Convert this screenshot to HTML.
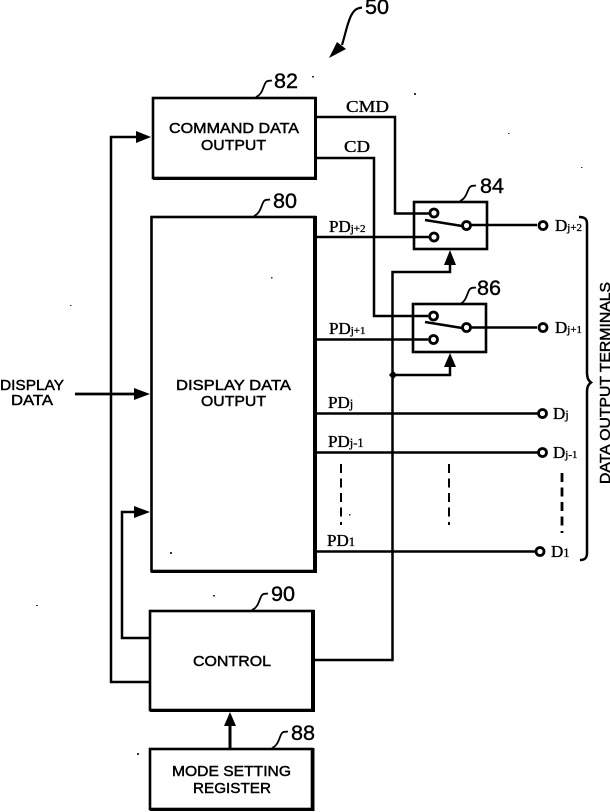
<!DOCTYPE html>
<html><head><meta charset="utf-8"><style>
html,body{margin:0;padding:0;background:#fff}
svg{display:block}
.s{font-family:"Liberation Sans",sans-serif;font-size:15px;fill:#000;stroke:#000;stroke-width:.45}
.n{font-family:"Liberation Sans",sans-serif;font-size:21px;fill:#000;stroke:#000;stroke-width:.4}
.r{font-family:"Liberation Serif",serif;font-size:17px;fill:#000;stroke:#000;stroke-width:.35}
.r tspan{font-size:12.500px}
.r .m{font-size:11px}
.l{fill:none;stroke:#000;stroke-width:2.500}
.t{fill:none;stroke:#000;stroke-width:1.800}
.b{fill:#fff;stroke:#000;stroke-width:2.600}
.c{fill:#fff;stroke:#000;stroke-width:2.800}
</style></head><body>
<svg width="610" height="812" viewBox="0 0 610 812" xmlns="http://www.w3.org/2000/svg">
<!-- connectors -->
<path class="l" d="M150 682H111V137H140"/>
<path class="l" d="M150 638H122V512H140"/>
<path class="l" style="stroke-width:2.800" d="M75 394H140"/>
<path class="l" d="M313 660H392.500V272H450V262"/>
<path class="l" d="M393 375H450V365"/>
<path class="l" style="stroke-width:3" d="M230 749V724"/>
<path class="l" d="M315 117H395V213.500H429"/>
<path class="l" d="M315 158H374V316H428"/>
<path class="l" d="M315 237H429"/>
<path class="l" d="M315 339.500H428"/>
<path class="l" d="M471 225H537"/>
<path class="l" d="M471 327.500H537"/>
<path class="l" d="M315 413.500H538"/>
<path class="l" d="M315 452.500H538"/>
<path class="l" d="M315 551.500H535"/>
<!-- arrowheads -->
<path d="M151 137L136 131V143Z"/>
<path d="M150 512L134 506V518Z"/>
<path d="M150 394L134 388V400Z"/>
<path d="M450 250L444 265H456Z"/>
<path d="M450 353L444 367H456Z"/>
<path d="M230 712L224 726H236Z"/>
<path d="M393 370.500L397 375L393 379.500L389 375Z"/>
<!-- boxes -->
<rect class="b" x="153" y="98" width="162.500" height="80"/>
<rect class="b" x="151.500" y="217" width="163.500" height="354"/>
<rect class="b" x="150" y="611" width="163" height="99"/>
<rect class="b" x="150" y="749" width="162" height="60"/>
<path d="M314 97h3v83H153v-3h161z"/>
<path d="M313 216h4v357H151v-3h162z"/>
<path d="M311 610h4v102H150v-3h161z"/>
<path d="M311 748h3.500v63H150v-3h161z"/>
<!-- switches -->
<rect class="b" x="414" y="202" width="73" height="47" style="fill:none"/>
<rect class="b" x="413" y="304" width="73" height="48" style="fill:none"/>
<path class="l" d="M425 220L462 226"/>
<path class="l" d="M425 322L462 328"/>
<circle class="c" cx="434" cy="213" r="4"/>
<circle class="c" cx="434" cy="237" r="4"/>
<circle class="c" cx="466.500" cy="225.500" r="4"/>
<circle class="c" cx="433.500" cy="316" r="4"/>
<circle class="c" cx="433.500" cy="339.500" r="4"/>
<circle class="c" cx="466.500" cy="327.500" r="4"/>
<circle class="c" cx="543" cy="225.500" r="4"/>
<circle class="c" cx="543" cy="327.500" r="4"/>
<circle class="c" cx="542.500" cy="413.500" r="4"/>
<circle class="c" cx="542.500" cy="452.500" r="4"/>
<circle class="c" cx="540" cy="551.500" r="4"/>
<!-- dashes -->
<path fill="none" stroke="#000" stroke-width="2" stroke-dasharray="9 5.500" d="M341 464V525"/>
<path fill="none" stroke="#000" stroke-width="2" stroke-dasharray="9 5.500" d="M449 464V525"/>
<path fill="none" stroke="#000" stroke-width="2.800" stroke-dasharray="9 5.500" d="M562 473V533"/>
<!-- brace -->
<path class="l" d="M579 217C585 217 587 219 587 224V372C587 379 589 381 591 382.500C589 384 587 386 587 392V553C587 558 585 560 580 560"/>
<!-- leaders -->
<path class="t" d="M256 97C263 94 263 86 266 82C268 80 270 81 272 80.500"/>
<path class="t" d="M254 216C261 213 261 205 264 201C266 199 268 200 270 199.500"/>
<path class="t" d="M252 610C259 607 259 599 262 595C264 593 266 594 268 593.500"/>
<path class="t" d="M272 748C279 745 279 737 282 733C284 731 286 732 288 731.500"/>
<path class="t" d="M460 201C467 198 467 190 470 187C472 185 474 186 476 185.500"/>
<path class="t" d="M460 304C467 301 467 292 470 289C472 287 474 288 476 287.500"/>
<path class="t" style="stroke-width:2.200" d="M342 45C346 32 348 20 352 14C355 9 358 8 362 7.500"/>
<path d="M329 58L346 49L337 42Z"/>
<!-- sans labels -->
<text class="s" x="169" y="133" textLength="130" lengthAdjust="spacingAndGlyphs">COMMAND DATA</text>
<text class="s" x="201" y="150" textLength="65" lengthAdjust="spacingAndGlyphs">OUTPUT</text>
<text class="s" x="176" y="390" textLength="115" lengthAdjust="spacingAndGlyphs">DISPLAY DATA</text>
<text class="s" x="201" y="406" textLength="65" lengthAdjust="spacingAndGlyphs">OUTPUT</text>
<text class="s" x="0" y="390" textLength="64" lengthAdjust="spacingAndGlyphs">DISPLAY</text>
<text class="s" x="11" y="405" textLength="42" lengthAdjust="spacingAndGlyphs">DATA</text>
<text class="s" x="193" y="666" textLength="78" lengthAdjust="spacingAndGlyphs">CONTROL</text>
<text class="s" x="172" y="776" textLength="119" lengthAdjust="spacingAndGlyphs">MODE SETTING</text>
<text class="s" x="193" y="793" textLength="78" lengthAdjust="spacingAndGlyphs">REGISTER</text>
<text class="s" transform="translate(610 484) rotate(-90)" textLength="202" lengthAdjust="spacingAndGlyphs">DATA OUTPUT TERMINALS</text>
<!-- numbers -->
<text class="n" x="365" y="14" textLength="24" lengthAdjust="spacingAndGlyphs">50</text>
<text class="n" x="274" y="88" textLength="24" lengthAdjust="spacingAndGlyphs">82</text>
<text class="n" x="273" y="208" textLength="24" lengthAdjust="spacingAndGlyphs">80</text>
<text class="n" x="271" y="601" textLength="24" lengthAdjust="spacingAndGlyphs">90</text>
<text class="n" x="291" y="740" textLength="24" lengthAdjust="spacingAndGlyphs">88</text>
<text class="n" x="480" y="193" textLength="24" lengthAdjust="spacingAndGlyphs">84</text>
<text class="n" x="477" y="295" textLength="24" lengthAdjust="spacingAndGlyphs">86</text>
<!-- serif labels -->
<text class="r" x="346" y="112" textLength="43" lengthAdjust="spacingAndGlyphs">CMD</text>
<text class="r" x="344" y="152" textLength="26" lengthAdjust="spacingAndGlyphs">CD</text>
<text class="r" x="329" y="232">PD<tspan class="m">j+2</tspan></text>
<text class="r" x="329" y="334">PD<tspan class="m">j+1</tspan></text>
<text class="r" x="328" y="408">PD<tspan>j</tspan></text>
<text class="r" x="328" y="447">PD<tspan>j-1</tspan></text>
<text class="r" x="327" y="546">PD<tspan>1</tspan></text>
<text class="r" x="555" y="231">D<tspan class="m">j+2</tspan></text>
<text class="r" x="555" y="333">D<tspan class="m">j+1</tspan></text>
<text class="r" x="553" y="419">D<tspan>j</tspan></text>
<text class="r" x="553" y="458">D<tspan class="m">j-1</tspan></text>
<text class="r" x="551" y="557">D<tspan>1</tspan></text>
<!-- specks -->
<g fill="#333">
<rect x="312" y="76" width="2" height="1.500"/><rect x="414" y="93" width="2" height="2"/>
<rect x="508" y="133" width="1.500" height="1"/><rect x="581" y="167" width="1.500" height="1"/>
<rect x="70" y="305" width="1.500" height="1"/><rect x="271" y="277" width="1.500" height="1.500"/>
<rect x="170" y="552" width="2" height="2"/><rect x="213" y="595" width="2" height="1.500"/>
<rect x="36" y="605" width="2" height="1"/><rect x="137" y="753" width="2" height="2"/>
<rect x="349" y="514" width="1.500" height="1.500"/>
</g>
</svg>
</body></html>
